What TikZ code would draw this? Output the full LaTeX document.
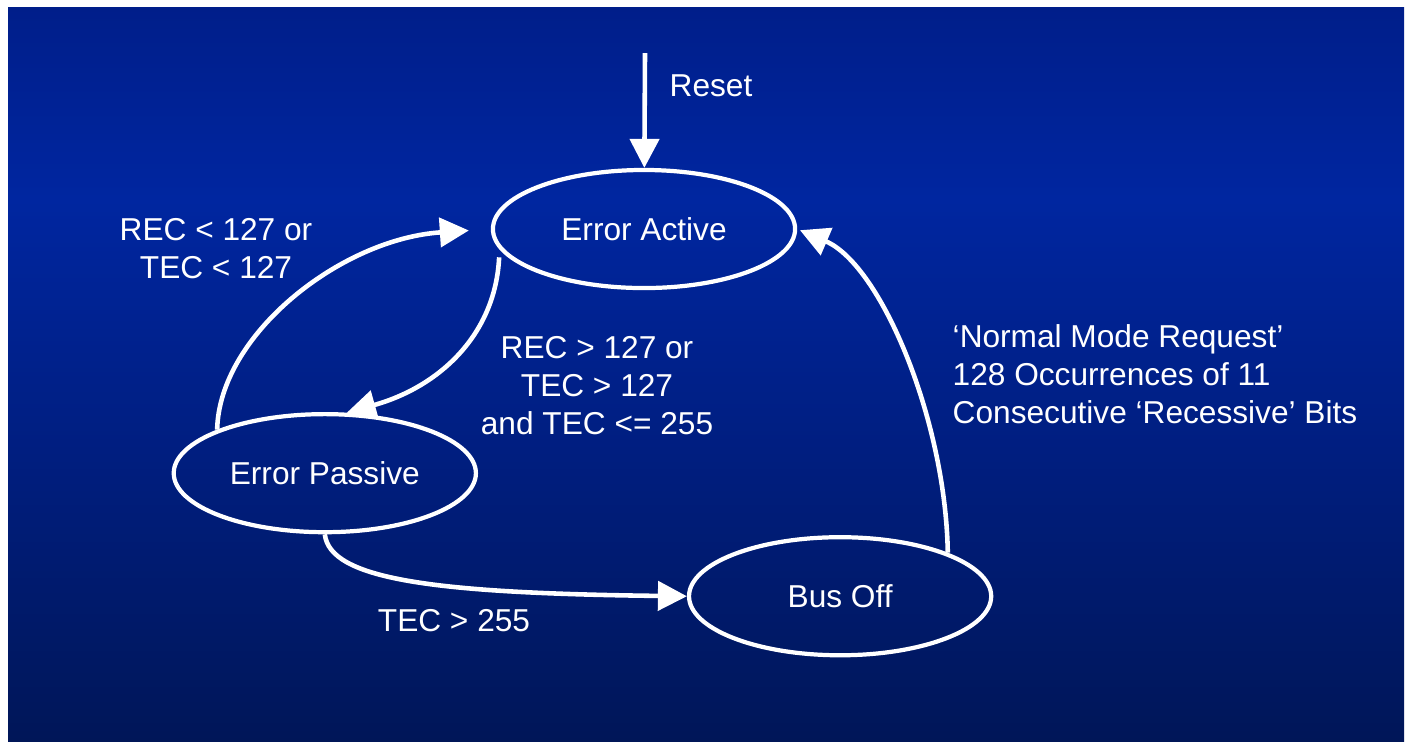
\documentclass[tikz,border=0pt]{standalone}
\usepackage{fontspec}
\setmainfont{Liberation Sans}
\usepackage{tikz}
\usetikzlibrary{arrows.meta,positioning,shapes.geometric}
\definecolor{slidetop}{RGB}{0,30,138}
\definecolor{slidehi}{RGB}{0,38,160}
\definecolor{slidemid}{RGB}{0,30,128}
\definecolor{slidebot}{RGB}{0,22,88}
\pgfdeclareverticalshading{slidebg}{100bp}{color(0bp)=(slidebot); color(25bp)=(slidebot); color(44.8bp)=(slidemid); color(61.9bp)=(slidehi); color(75bp)=(slidetop); color(100bp)=(slidetop)}
\tikzset{
    statebox/.style={
        ellipse,
        draw=white,
        line width=1.2pt,
        text=white,
        font=\fontsize{9}{10.8}\selectfont,
        minimum width=3.02cm,
        minimum height=1.18cm
    },
    condlabel/.style={
        text=white,
        align=center,
        inner sep=0pt,
        font=\fontsize{9}{10.8}\selectfont
    },
    trans/.style={
        -{Triangle[length=2.9mm,width=2.9mm]},
        draw=white,
        line width=1.3pt
    }
}

\begin{document}
\begin{tikzpicture}[x=0.01cm, y=-0.01cm, node distance=1cm, on grid]
        \fill[white] (0,0) rectangle (1410,741);
        \shade[shading=slidebg] (8,7) rectangle (1404,741);

        \node[statebox] (active) at (644,229) {Error Active};

        \node[statebox, below left=2.44cm and 3.19cm of active] (passive) {Error Passive};

        \node[statebox, below right=1.23cm and 5.15cm of passive] (busoff) {Bus Off};

        \coordinate (rtop) at (645,53);
        \node[condlabel, anchor=west] (reset) at (669,86) {Reset};

        \node[condlabel] (back) at (216,249) {REC < 127 or\\TEC < 127};
        \node[condlabel] (down) at (597,386) {REC > 127 or\\TEC > 127\\and TEC <= 255};
        \node[condlabel] (off) at (454,621) {TEC > 255};
        \node[condlabel, anchor=west, align=left] (recover) at (952,374) {%
            `Normal Mode Request'\\
            128 Occurrences of 11\\
            Consecutive `Recessive' Bits
        };

        \draw[trans] (rtop) -- (active);
        \draw[trans, shorten >=2.2mm] (passive.158) .. controls +(2,-95) and +(-150,10) .. (active.west);
        \draw[trans, shorten <=0.8mm] (active.188) .. controls +(-4,85) and +(93,-26) .. (passive.70);
        \draw[trans] (passive.south) .. controls +(5,45) and +(-254,-3) .. (busoff.west);
        \draw[trans, shorten >=0.3mm] (busoff.22) .. controls +(-2,-132) and +(84,36) .. (active.east);
    \end{tikzpicture}
\end{document}
